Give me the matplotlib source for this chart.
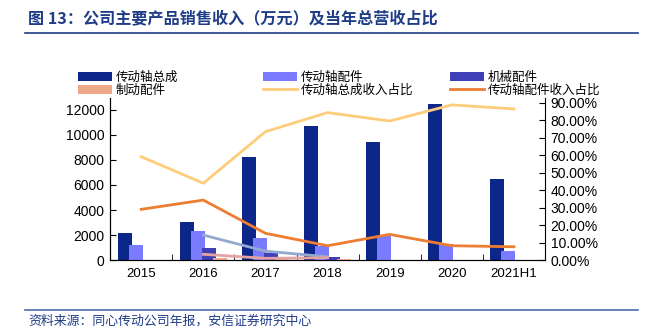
import numpy as np
import matplotlib.pyplot as plt
from matplotlib.ticker import FuncFormatter, FixedLocator

plt.rcParams['font.family'] = ['Noto Sans CJK SC', 'DejaVu Sans']

# data
years = ['2015', '2016', '2017', '2018', '2019', '2020', '2021H1']
shaft_assembly = [2150, 3050, 8200, 10700, 9450, 12450, 6450]      # 传动轴总成
shaft_parts = [1200, 2350, 1800, 1100, 1900, 1300, 700]            # 传动轴配件
mech_parts = [0, 1000, 600, 250, 0, 0, 0]                          # 机械配件
brake_parts = [0, 200, 60, 50, 0, 0, 0]                            # 制动配件
assembly_share = [0.591, 0.439, 0.734, 0.843, 0.795, 0.887, 0.864]  # 传动轴总成收入占比
parts_share = [0.290, 0.343, 0.153, 0.082, 0.147, 0.082, 0.076]     # 传动轴配件收入占比
mech_share = [np.nan, 0.143, 0.051, 0.019, np.nan, np.nan, np.nan]  # 机械配件收入占比
brake_share = [np.nan, 0.033, 0.010, 0.013, np.nan, np.nan, np.nan]  # 制动配件收入占比

navy = '#1F3C88'
x = np.arange(len(years))
w = 0.225
step = 0.178

fig = plt.figure(figsize=(6.48, 3.33), dpi=100)
ax = fig.add_axes([0.170, 0.219, 0.671, 0.487])
ax2 = ax.twinx()

b1 = ax.bar(x - 1.5 * step, shaft_assembly, w, color='#0D2689', label='传动轴总成', zorder=2)
b2 = ax.bar(x - 0.5 * step, shaft_parts, w, color='#7B7BFF', label='传动轴配件', zorder=3)
b3 = ax.bar(x + 0.5 * step, mech_parts, w, color='#3F3FB8', label='机械配件', zorder=4)
b4 = ax.bar(x + 1.5 * step, brake_parts, w, color='#F0A88A', label='制动配件', zorder=5)

l1, = ax2.plot(x, assembly_share, color='#FFCC7A', lw=2, label='传动轴总成收入占比')
l2, = ax2.plot(x, parts_share, color='#ED7D31', lw=2, label='传动轴配件收入占比')
ax2.plot(x, mech_share, color='#93A9CF', lw=2)
ax2.plot(x, brake_share, color='#E3A3A0', lw=2)

ax.set_xlim(-0.5, len(years) - 0.5)
ax.set_ylim(0, 12960)
ax2.set_ylim(0, 0.927)
ax.set_yticks(np.arange(0, 12001, 2000))
ax2.set_yticks(np.arange(0, 0.91, 0.1))
ax2.yaxis.set_major_formatter(FuncFormatter(lambda v, p: f'{v*100:.2f}%'))

ax.set_xticks(x)
ax.set_xticklabels(years)
ax.xaxis.set_minor_locator(FixedLocator(np.arange(0.5, len(years) - 1, 1.0)))
ax.tick_params(axis='x', which='major', length=0, pad=6, labelsize=9.5)
ax.tick_params(axis='x', which='minor', direction='in', length=4)
ax.tick_params(axis='y', direction='in', length=4, labelsize=10, pad=4)
ax2.tick_params(axis='y', direction='in', length=4, labelsize=10, pad=4)
for lab in ax.get_xticklabels() + ax.get_yticklabels() + ax2.get_yticklabels():
    lab.set_fontfamily('Liberation Sans')

for a in (ax, ax2):
    a.spines['top'].set_visible(False)
ax.spines['right'].set_visible(False)
ax.set_zorder(ax2.get_zorder() - 1)
ax2.patch.set_visible(False)

# three legend columns placed separately, like the reference
columns = [([b1, b4], 78), ([b2, l1], 263), ([b3, l2], 450)]
for hs, xpix in columns:
    fig.legend(handles=hs, labels=[h.get_label() for h in hs],
               loc='upper left', bbox_to_anchor=(xpix / 648, 0.787), frameon=False,
               fontsize=9, handlelength=2.7, handleheight=0.75, handletextpad=0.3,
               labelspacing=0.0, borderpad=0, borderaxespad=0)

fig.text(0.043, 0.945, '图 13：公司主要产品销售收入（万元）及当年总营收占比',
         fontsize=11.6, fontweight='bold', color=navy, va='center')
fig.add_artist(plt.Line2D([0.039, 0.985], [0.9, 0.9], color=navy, lw=1.2))
fig.add_artist(plt.Line2D([0.039, 0.985], [0.068, 0.068], color='#4A6EB0', lw=1.2))
fig.text(0.043, 0.037, '资料来源：同心传动公司年报，安信证券研究中心',
         fontsize=9.3, style='italic', color=navy, va='center')

fig.savefig('out.png', dpi=100, facecolor='white')
